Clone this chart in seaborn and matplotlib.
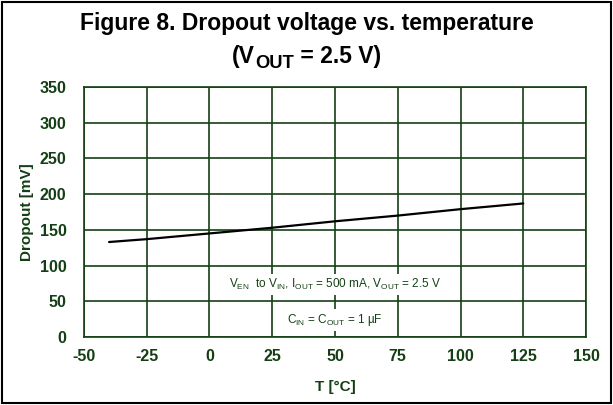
import matplotlib
matplotlib.use("Agg")
import matplotlib.pyplot as plt
import seaborn as sns
import pandas as pd
from matplotlib.patches import Rectangle

# datos
temp_c = [-40, -25, 0, 25, 50, 75, 100, 125]
dropout_mv = [133, 137, 145, 153, 162, 170, 179, 187]

x_ticks = [-50, -25, 0, 25, 50, 75, 100, 125, 150]
y_ticks = [0, 50, 100, 150, 200, 250, 300, 350]

green = '#143f14'

sns.set_style("white")
plt.rcParams['font.family'] = ['Liberation Sans', 'DejaVu Sans']
plt.rcParams['mathtext.fontset'] = 'custom'
plt.rcParams['mathtext.rm'] = 'Liberation Sans'
plt.rcParams['mathtext.bf'] = 'Liberation Sans:bold'
plt.rcParams['axes.unicode_minus'] = False

df = pd.DataFrame({'T': temp_c, 'Dropout': dropout_mv})

fig = plt.figure(figsize=(6.13, 4.05), dpi=100)
ax = fig.add_axes([0.137, 0.168, 0.819, 0.617])

sns.lineplot(data=df, x='T', y='Dropout', ax=ax, color='black', linewidth=1.6)

ax.set_xlim(-50, 150)
ax.set_ylim(0, 350)
ax.set_xticks(x_ticks, labels=[str(v) for v in x_ticks], fontweight='bold')
ax.set_yticks(y_ticks, labels=[str(v) for v in y_ticks], fontweight='bold')
ax.grid(True, color=green, linewidth=1.2)
ax.set_axisbelow(True)
for s in ax.spines.values():
    s.set_color(green)
    s.set_linewidth(1.2)
ax.tick_params(direction='inout', length=7, width=1.2, color=green,
               labelcolor=green, labelsize=11.5)
ax.tick_params(axis='y', pad=9)
ax.tick_params(axis='x', pad=5)

ax.set_xlabel('T [°C]', fontsize=11, fontweight='bold', color=green, labelpad=12)
ax.set_ylabel('Dropout [mV]', fontsize=11, fontweight='bold', color=green, labelpad=4)

fig.text(0.5, 0.943, 'Figure 8. Dropout voltage vs. temperature',
         ha='center', va='center', fontsize=16.5, fontweight='bold', color='black')

# segunda linea del titulo, con subindice grande
fig.canvas.draw()
r = fig.canvas.get_renderer()
fs = 16.5
parts = [('(V', fs, 0), ('OUT', fs * 0.8, -5), (' = 2.5 V)', fs, 0)]
texts = []
for s, size, dy in parts:
    t = fig.text(0, 0, s, fontsize=size, fontweight='bold', color='black', va='baseline')
    texts.append((t, dy))
widths = [t.get_window_extent(r).width for t, _ in texts]
x0 = (fig.bbox.width - sum(widths)) / 2
base_y = fig.bbox.height * 0.845
for (t, dy), w in zip(texts, widths):
    t.set_transform(None)
    t.set_position((x0, base_y + dy))
    x0 += w

# el draw puede regenerar ticks: volver a poner negrita
for lbl in ax.get_xticklabels() + ax.get_yticklabels():
    lbl.set_fontweight('bold')

box = dict(facecolor='white', edgecolor='none', pad=2)
ax.text(50, 73, r'V$_{\mathrm{EN}}$  to V$_{\mathrm{IN}}$, I$_{\mathrm{OUT}}$ = 500 mA, V$_{\mathrm{OUT}}$ = 2.5 V',
        ha='center', va='center', fontsize=8.5, color=green, bbox=box)
ax.text(50, 24, r'C$_{\mathrm{IN}}$ = C$_{\mathrm{OUT}}$ = 1 µF',
        ha='center', va='center', fontsize=8.5, color=green, bbox=box)

fig.patches.append(Rectangle((0.004, 0.005), 0.992, 0.99, transform=fig.transFigure,
                             fill=False, edgecolor='black', linewidth=1.5))

plt.savefig('out.png', dpi=100)
